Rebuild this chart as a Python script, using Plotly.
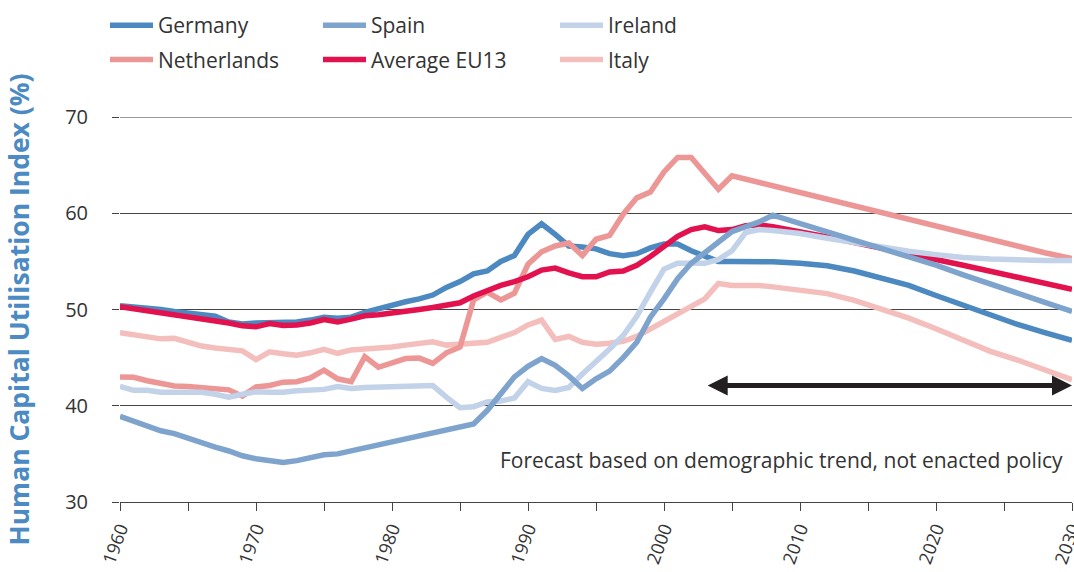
import plotly.graph_objects as go

# ---- data ----
years = list(range(1960, 2009)) + [2010, 2012, 2014, 2016, 2018, 2020, 2022, 2024, 2026, 2028, 2030]

germany = [50.4, 50.3, 50.2, 50.0, 49.8, 49.6, 49.5, 49.3, 48.7, 48.5,
           48.6, 48.6, 48.6, 48.7, 48.9, 49.2, 49.1, 49.2, 49.7, 50.1,
           50.5, 50.8, 51.1, 51.5, 52.3, 52.9, 53.7, 54.0, 55.0, 55.6,
           57.8, 58.9, 57.8, 56.6, 56.5, 56.3, 55.8, 55.6, 55.8, 56.4,
           56.8, 56.8, 56.1, 55.5, 55.0, 55.0, 55.0, 55.0, 54.95,
           54.8, 54.55, 54.0, 53.3, 52.5, 51.45, 50.4, 49.35, 48.45, 47.6, 46.8]

spain = [38.9, 38.4, 37.8, 37.4, 37.1, 36.6, 36.1, 35.7, 35.3, 34.8,
         34.5, 34.3, 34.1, 34.3, 34.6, 34.9, 35.0, 35.3, 35.7, 36.0,
         36.2, 36.5, 36.8, 37.2, 37.5, 37.8, 38.1, 39.5, 41.3, 43.0,
         44.1, 44.9, 44.2, 43.1, 41.8, 42.8, 43.6, 45.0, 46.6, 49.2,
         51.1, 53.2, 54.8, 55.9, 56.9, 58.1, 58.6, 59.1, 59.8,
         58.95, 58.0, 57.2, 56.4, 55.5, 54.6, 53.6, 52.6, 51.7, 50.75, 49.8]

ireland = [42.0, 41.6, 41.6, 41.4, 41.4, 41.4, 41.4, 41.2, 40.9, 41.2,
           41.45, 41.4, 41.4, 41.55, 41.6, 41.7, 42.0, 41.8, 41.9, 41.95,
           42.0, 42.0, 42.05, 42.1, 40.9, 39.8, 39.9, 40.4, 40.5, 40.8,
           42.5, 41.8, 41.6, 41.9, 43.3, 44.7, 45.9, 47.3, 49.3, 51.8,
           54.2, 54.8, 54.8, 54.8, 55.2, 56.1, 58.0, 58.3, 58.2,
           57.9, 57.4, 56.95, 56.45, 56.05, 55.7, 55.4, 55.25, 55.15, 55.1, 55.1]

netherlands = [43.0, 42.95, 42.6, 42.35, 42.05, 42.0, 41.9, 41.8, 41.65, 41.0,
               41.95, 42.1, 42.45, 42.5, 42.9, 43.7, 42.8, 42.5, 45.1, 44.0,
               44.45, 44.9, 44.95, 44.4, 45.5, 46.1, 51.0, 51.8, 51.0, 51.7,
               54.7, 56.0, 56.6, 56.9, 55.6, 57.3, 57.7, 59.9, 61.6, 62.2,
               64.3, 65.8, 65.8, 64.1, 62.5, 63.9, 63.55, 63.2, 62.85,
               62.1, 61.4, 60.7, 60.0, 59.3, 58.6, 57.9, 57.2, 56.5, 55.9, 55.3]

eu13 = [50.3, 50.1, 49.9, 49.7, 49.5, 49.3, 49.1, 48.9, 48.6, 48.3,
        48.2, 48.55, 48.35, 48.4, 48.6, 48.95, 48.7, 49.0, 49.35, 49.45,
        49.6, 49.8, 50.0, 50.2, 50.4, 50.7, 51.4, 52.0, 52.5, 52.9,
        53.4, 54.1, 54.3, 53.8, 53.4, 53.4, 53.9, 54.0, 54.6, 55.5,
        56.5, 57.6, 58.3, 58.6, 58.2, 58.3, 58.7, 58.8, 58.6,
        58.1, 57.55, 56.95, 56.4, 55.8, 55.2, 54.6, 53.95, 53.3, 52.7, 52.1]

italy = [47.6, 47.4, 47.2, 46.95, 47.0, 46.6, 46.2, 46.0, 45.9, 45.7,
         44.8, 45.6, 45.4, 45.25, 45.5, 45.85, 45.45, 45.8, 45.9, 45.95,
         46.1, 46.3, 46.5, 46.65, 46.3, 46.4, 46.45, 46.6, 47.1, 47.6,
         48.4, 48.9, 46.9, 47.2, 46.6, 46.4, 46.5, 46.7, 47.2, 48.0,
         48.8, 49.6, 50.4, 51.1, 52.7, 52.5, 52.5, 52.5, 52.35,
         52.0, 51.65, 50.95, 50.05, 49.1, 48.0, 46.75, 45.65, 44.75, 43.75, 42.7]

x_ticks = [1960, 1970, 1980, 1990, 2000, 2010, 2020, 2030]
y_ticks = [30, 40, 50, 60, 70]
forecast_start, forecast_end, forecast_level = 2003.1, 2030, 42.1
note = "Forecast based on demographic trend, not enacted policy"

FONT = "Open Sans"
TXT = "#333333"

# (name, values, color, legend, rank) in drawing order
series = [
    ("Germany", germany, "#4C89C0", "legend", 1),
    ("Italy", italy, "#F4BEBC", "legend3", 2),
    ("Netherlands", netherlands, "#ED9696", "legend", 2),
    ("Average EU13", eu13, "#E1124E", "legend2", 2),
    ("Ireland", ireland, "#C2D2E9", "legend3", 1),
    ("Spain", spain, "#7EA4CE", "legend2", 1),
]

fig = go.Figure()
for name, vals, color, leg, rank in series:
    fig.add_trace(go.Scatter(
        x=years, y=vals, mode="lines", name=name,
        line=dict(color=color, width=5.5),
        legend=leg, legendrank=rank, legendgroup=name,
        hoverinfo="skip",
    ))

W, H = 1074, 572
ML, MR, MT, MB = 120, 2, 117, 70
pw = W - ML - MR
ph = H - MT - MB

def lx(px):
    return (px - ML) / pw

def ly(py):
    return (H - MB - py) / ph

legend_common = dict(
    orientation="v", xanchor="left", yanchor="top",
    font=dict(family=FONT, size=21, color=TXT),
    bgcolor="rgba(0,0,0,0)", borderwidth=0,
    itemwidth=43, tracegroupgap=4, itemclick=False, itemdoubleclick=False,
)

fig.update_layout(
    width=W, height=H,
    margin=dict(l=ML, r=MR, t=MT, b=MB, autoexpand=False),
    paper_bgcolor="white", plot_bgcolor="white",
    font=dict(family=FONT, color=TXT),
    legend=dict(x=lx(105), y=ly(5), **legend_common),
    legend2=dict(x=lx(318), y=ly(5), **legend_common),
    legend3=dict(x=lx(555), y=ly(5), **legend_common),
    xaxis=dict(
        range=[1960, 2030], tickmode="array", tickvals=x_ticks,
        ticktext=[str(v) for v in x_ticks], tickangle=-70,
        ticklabeloverflow="allow",
        ticks="outside", ticklen=8, tickcolor="#444", tickwidth=1,
        minor=dict(dtick=5, tick0=1960, ticks="outside", ticklen=8, tickcolor="#444", tickwidth=1, showgrid=False),
        showline=True, linecolor="#444", linewidth=1.2,
        showgrid=False, zeroline=False,
        tickfont=dict(family=FONT, size=18, color=TXT),
    ),
    yaxis=dict(
        range=[30, 70], tickmode="array", tickvals=y_ticks,
        ticks="outside", ticklen=7, tickcolor="#444", tickwidth=1,
        showgrid=True, gridcolor="#444", gridwidth=1.2,
        showline=False, zeroline=False,
        tickfont=dict(family=FONT, size=20, color=TXT),
        ticklabelstandoff=20,
        title=dict(text="<b>Human Capital Utilisation Index (%)</b>",
                   font=dict(family=FONT, size=26.5, color="#4B8AC2"), standoff=27),
    ),
    showlegend=True,
)

fig.add_shape(type="line", xref="paper", yref="y", x0=0, x1=1, y0=70, y1=70,
              line=dict(color="#999999", width=2), layer="above")

fig.add_annotation(
    x=forecast_end, y=forecast_level, ax=forecast_start, ay=forecast_level,
    xref="x", yref="y", axref="x", ayref="y",
    text="", showarrow=True, arrowside="end+start",
    arrowhead=2, startarrowhead=2, arrowsize=0.8, startarrowsize=0.8,
    arrowwidth=5, arrowcolor="#231F20",
)

fig.add_annotation(
    x=2029.45, y=34.4, xref="x", yref="y", xanchor="right", yanchor="middle",
    text=note, showarrow=False,
    font=dict(family=FONT, size=21, color=TXT),
)

fig.write_html("out.html",
               config={"displayModeBar": False},
               post_script="document.body.style.margin='0';document.body.style.padding='0';")
